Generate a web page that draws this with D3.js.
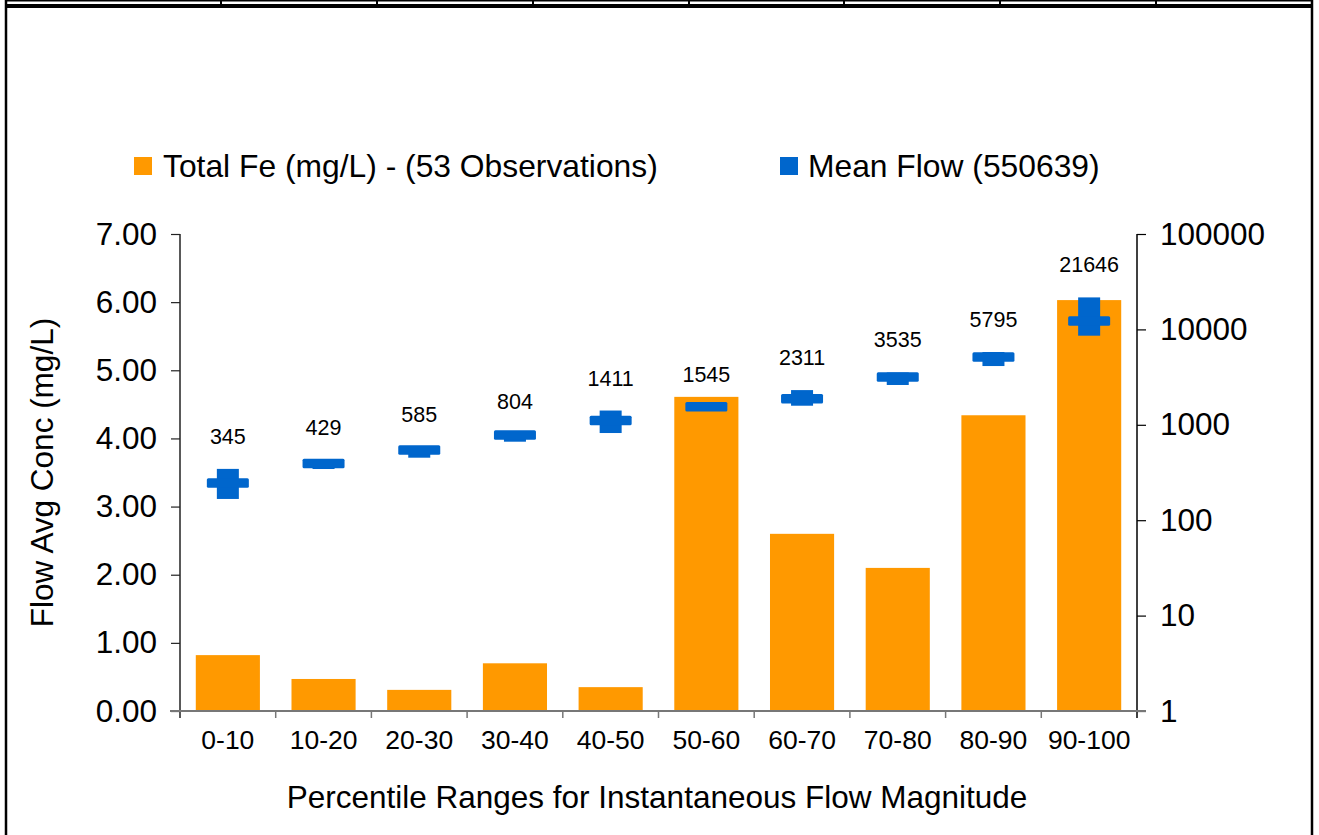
<!DOCTYPE html>
<html>
<head>
<meta charset="utf-8">
<script src="https://cdn.jsdelivr.net/npm/d3@7"></script>
<style>
  html, body { margin: 0; padding: 0; background: #fff; }
  svg { display: block; font-family: "Liberation Sans", Arial, sans-serif; }
</style>
</head>
<body>
<svg id="chart" width="1319" height="835"></svg>
<script>
// Percentile ranges of instantaneous flow
const categories = ["0-10", "10-20", "20-30", "30-40", "40-50", "50-60", "60-70", "70-80", "80-90", "90-100"];
// Flow-averaged total iron concentration (mg/L)
const totalFe = [0.82, 0.47, 0.31, 0.70, 0.35, 4.61, 2.60, 2.10, 4.34, 6.03];
// Mean flow in each range (labelled value, top of each flow marker)
const meanFlow = [345, 429, 585, 804, 1411, 1545, 2311, 3535, 5795, 21646];
// Centre of the horizontal flow dash
const flowMid = [245, 393, 545, 782, 1109, 1545, 1877, 3170, 5140, 12250];
// Lower end of the vertical flow bar
const flowLow = [167, 344, 452, 665, 820, 1545, 1585, 2614, 4130, 8590];
// Axis ticks
const leftTicks = [0, 1, 2, 3, 4, 5, 6, 7];
const rightTicks = [1, 10, 100, 1000, 10000, 100000];

const svg = d3.select("#chart");
const W = 1319, H = 835;
const plot = { left: 180, right: 1137, top: 234, bottom: 711 };
const orange = "#FF9900", blue = "#0066CC";
const font = "Liberation Sans, Arial, sans-serif";

// Outer frame with the table-cell strip along the top edge
const frame = svg.append("g");
const cellEdges = [6, 221, 377, 533, 689, 844, 1000, 1156, 1312];
frame.append("rect").attr("x", 5).attr("y", 0).attr("width", 1308).attr("height", 1.5).attr("fill", "#000");
frame.append("rect").attr("x", 5).attr("y", 4).attr("width", 1308).attr("height", 4).attr("fill", "#000");
cellEdges.forEach((x, i) => {
  const edge = (i === 0 || i === cellEdges.length - 1);
  frame.append("line")
    .attr("x1", x).attr("x2", x)
    .attr("y1", 0).attr("y2", edge ? H : 6)
    .attr("stroke", "#000").attr("stroke-width", edge ? 2.5 : 2);
});

const x = d3.scaleBand().domain(categories).range([plot.left, plot.right]).paddingInner(0).paddingOuter(0);
const yL = d3.scaleLinear().domain([0, 7]).range([plot.bottom, plot.top]);
const yR = d3.scaleLog().domain([1, 100000]).range([plot.bottom, plot.top]);

// Bars
const barW = x.bandwidth() * 0.67;
svg.append("g").selectAll("rect").data(categories).join("rect")
  .attr("x", d => x(d) + (x.bandwidth() - barW) / 2)
  .attr("y", (d, i) => yL(totalFe[i]))
  .attr("width", barW)
  .attr("height", (d, i) => yL(0) - yL(totalFe[i]))
  .attr("fill", orange);

// Left axis
const leftAxis = d3.axisLeft(yL).tickValues(leftTicks).tickFormat(d3.format(".2f")).tickSize(9).tickPadding(14);
const gL = svg.append("g").attr("transform", `translate(${plot.left},0)`).call(leftAxis);
gL.select(".domain").remove();
gL.append("line").attr("x1", 0).attr("x2", 0).attr("y1", plot.top).attr("y2", plot.bottom + 7)
  .attr("stroke", "#222").attr("stroke-width", 1.5);
gL.selectAll(".tick line").attr("stroke", "#222").attr("stroke-width", 1.2);
gL.selectAll(".tick text").attr("font-size", 31.5).attr("fill", "#000").attr("font-family", font);

// Right axis (log)
const rightAxis = d3.axisRight(yR).tickValues(rightTicks).tickFormat(d3.format("d")).tickSize(9).tickPadding(14);
const gR = svg.append("g").attr("transform", `translate(${plot.right},0)`).call(rightAxis);
gR.select(".domain").remove();
gR.append("line").attr("x1", 0).attr("x2", 0).attr("y1", plot.top).attr("y2", plot.bottom + 7)
  .attr("stroke", "#000").attr("stroke-width", 1.5);
gR.selectAll(".tick line").attr("stroke", "#000").attr("stroke-width", 1.2);
gR.selectAll(".tick text").attr("font-size", 31.5).attr("fill", "#000").attr("font-family", font);

// Category axis
const gX = svg.append("g").attr("transform", `translate(0,${plot.bottom})`);
gX.append("line").attr("x1", plot.left - 10).attr("x2", plot.right + 9).attr("y1", 0).attr("y2", 0)
  .attr("stroke", "#777").attr("stroke-width", 2);
gX.selectAll("line.tick").data(categories.slice(1)).join("line").attr("class", "tick")
  .attr("x1", d => x(d)).attr("x2", d => x(d)).attr("y1", 0).attr("y2", 7)
  .attr("stroke", "#777").attr("stroke-width", 1.5);
gX.selectAll("text").data(categories).join("text")
  .attr("x", d => x(d) + x.bandwidth() / 2)
  .attr("y", 38)
  .attr("text-anchor", "middle")
  .attr("font-size", 26.5)
  .text(d => d);

// Flow markers: vertical bar from mean down to the lower value, plus a horizontal dash
const markers = svg.append("g");
categories.forEach((c, i) => {
  const cx = x(c) + x.bandwidth() / 2;
  const top = yR(meanFlow[i]), low = yR(flowLow[i]), mid = yR(flowMid[i]);
  markers.append("rect")
    .attr("x", cx - 11).attr("y", Math.min(top, low))
    .attr("width", 22).attr("height", Math.abs(low - top))
    .attr("fill", blue);
  markers.append("rect")
    .attr("x", cx - 21).attr("y", mid - 4.75)
    .attr("width", 42).attr("height", 9.5)
    .attr("rx", 1.5)
    .attr("fill", blue);
  markers.append("text")
    .attr("x", cx).attr("y", top - 32)
    .attr("text-anchor", "middle")
    .attr("dominant-baseline", "central")
    .attr("font-size", 21.5)
    .text(d3.format("d")(meanFlow[i]));
});

// Legend
const legend = svg.append("g");
legend.append("rect").attr("x", 134).attr("y", 157).attr("width", 18).attr("height", 18).attr("fill", orange);
legend.append("text").attr("x", 163).attr("y", 177).attr("font-size", 31.8).text("Total Fe (mg/L) - (53 Observations)");
legend.append("rect").attr("x", 780).attr("y", 157).attr("width", 18).attr("height", 18).attr("fill", blue);
legend.append("text").attr("x", 808).attr("y", 177).attr("font-size", 31.8).text("Mean Flow (550639)");

// Axis titles
svg.append("text")
  .attr("transform", `translate(53,${(plot.top + plot.bottom) / 2}) rotate(-90)`)
  .attr("text-anchor", "middle")
  .attr("font-size", 31.5)
  .text("Flow Avg Conc (mg/L)");
svg.append("text")
  .attr("x", 657).attr("y", 808)
  .attr("text-anchor", "middle")
  .attr("font-size", 31.5)
  .text("Percentile Ranges for Instantaneous Flow Magnitude");
</script>
</body>
</html>
